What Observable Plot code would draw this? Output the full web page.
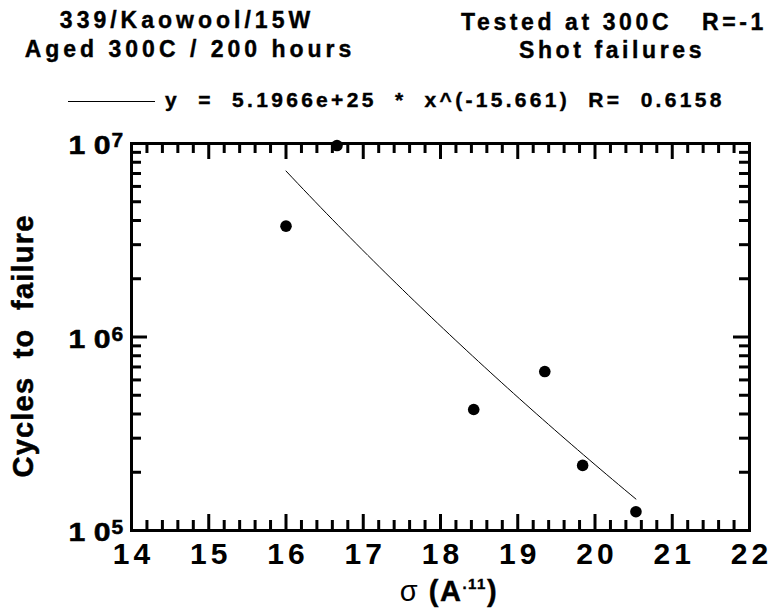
<!DOCTYPE html>
<html>
<head>
<meta charset="utf-8">
<script src="https://cdn.jsdelivr.net/npm/d3@7"></script>
<script src="https://cdn.jsdelivr.net/npm/@observablehq/plot@0.6"></script>
<style>
  body { margin: 0; background: #fff; }
  #chart { position: relative; width: 772px; height: 612px; font-family: "Liberation Sans", Arial, sans-serif; font-weight: bold; color: #000; }
  #chart svg { position: absolute; left: 0; top: 0; }
  #chart svg text { font-weight: bold; font-family: "Liberation Sans", Arial, sans-serif; }
  .t { position: absolute; white-space: pre; line-height: 1; transform: translateX(-50%); -webkit-text-stroke: 0.4px #000; }
  .x-tick text { letter-spacing: 4px; }
  .y-title text { letter-spacing: 1.2px; white-space: pre; }
  .y-base text { white-space: pre; }
</style>
</head>
<body>
<div id="chart"></div>
<script>
// Fatigue test results: stress parameter vs cycles to failure
const sigma = [16.0, 16.66, 18.43, 19.35, 19.84, 20.53];
const cycles = [3.74e6, 9.76e6, 4.22e5, 6.63e5, 2.17e5, 1.25e5];

// Power-law fit reported with the data
const fitA = 5.1966e25;
const fitB = -15.661;
const fitR = 0.6158;

const xTickValues = [14, 15, 16, 17, 18, 19, 20, 21, 22];
const yTickValues = [1e5, 1e6, 1e7];
const yTickExponents = ["5", "6", "7"];

const titleLeft = ["339/Kaowool/15W", "Aged 300C / 200 hours"];
const titleRight = ["Tested at 300C   R=-1", "Shot failures"];
const yLabel = "Cycles  to  failure";

// Minor tick positions: fifths on x, 2..9 per decade on y
const xMinor = [];
for (let i = 14; i < 22; i++) for (let k = 1; k <= 4; k++) xMinor.push(+(i + k * 0.2).toFixed(1));
const yMinor = [];
for (const dec of [1e5, 1e6]) for (let m = 2; m <= 9; m++) yMinor.push(m * dec);

// Fitted curve sampled over the tested stress range
const xFitMin = d3.min(sigma), xFitMax = d3.max(sigma);
const fit = d3.range(0, 61).map(i => {
  const x = xFitMin + (xFitMax - xFitMin) * i / 60;
  return {x, y: fitA * Math.pow(x, fitB)};
});

const points = sigma.map((s, i) => ({x: s, y: cycles[i]}));

const W = 772, H = 612;
const mT = 143, mB = 82, mL = 131, mR = 23;
const frameW = W - mL - mR, frameH = H - mT - mB;
const majorLen = 16, minorLen = 10;
const font = "Liberation Sans, Arial, sans-serif";
const heavy = {fill: "black", stroke: "black", strokeWidth: 0.5, fontWeight: "bold"};

const plot = Plot.plot({
  width: W, height: H,
  marginTop: mT, marginBottom: mB, marginLeft: mL, marginRight: mR,
  style: {fontFamily: font, fontWeight: "bold", background: "white", color: "black", overflow: "visible"},
  x: {domain: [14, 22], axis: null},
  y: {type: "log", domain: [1e5, 1e7], axis: null},
  marks: [
    // inward ticks on all four sides
    Plot.tickX(xTickValues, {x: d => d, insetTop: frameH - majorLen, stroke: "black", strokeWidth: 3}),
    Plot.tickX(xMinor, {x: d => d, insetTop: frameH - minorLen, stroke: "black", strokeWidth: 3}),
    Plot.tickX(xTickValues, {x: d => d, insetBottom: frameH - majorLen, stroke: "black", strokeWidth: 3}),
    Plot.tickX(xMinor, {x: d => d, insetBottom: frameH - minorLen, stroke: "black", strokeWidth: 3}),
    Plot.tickY(yTickValues, {y: d => d, insetRight: frameW - majorLen, stroke: "black", strokeWidth: 3}),
    Plot.tickY(yMinor, {y: d => d, insetRight: frameW - minorLen, stroke: "black", strokeWidth: 3}),
    Plot.tickY(yTickValues, {y: d => d, insetLeft: frameW - majorLen, stroke: "black", strokeWidth: 3}),
    Plot.tickY(yMinor, {y: d => d, insetLeft: frameW - minorLen, stroke: "black", strokeWidth: 3}),
    Plot.frame({stroke: "black", strokeWidth: 3}),
    // x tick labels
    Plot.axisX(xTickValues, {anchor: "bottom", tickSize: 0, tickPadding: 12, fontSize: 30, ...heavy, className: "x-tick", label: null, tickFormat: d => String(d), dx: 2}),
    // y tick labels as 10 with a raised exponent
    Plot.text(yTickValues, {y: d => d, frameAnchor: "left", text: () => "1 0", textAnchor: "end", dx: -21, dy: 2.5, fontSize: 25, ...heavy, className: "y-base"}),
    Plot.text(yTickValues, {y: d => d, frameAnchor: "left", text: (d, i) => yTickExponents[i], textAnchor: "start", dx: -20, dy: -3, fontSize: 21, ...heavy, className: "y-exp"}),
    // y axis title
    Plot.text([yLabel], {frameAnchor: "left", text: d => d, rotate: -90, textAnchor: "middle", dx: -108, dy: 9, fontSize: 29, ...heavy, className: "y-title"}),
    // fitted power law and observations
    Plot.line(fit, {x: "x", y: "y", stroke: "black", strokeWidth: 1}),
    Plot.dot(points, {x: "x", y: "y", r: 5.8, fill: "black", stroke: "none"})
  ]
});

// the decade labels are set in a broad face: widen them to a fixed run
plot.querySelectorAll(".y-base text").forEach(t => {
  t.setAttribute("textLength", 42);
  t.setAttribute("lengthAdjust", "spacingAndGlyphs");
});

const chart = document.getElementById("chart");
chart.appendChild(plot);

function addText(html, cx, baseline, size, spacing, extra) {
  const d = document.createElement("div");
  d.className = "t";
  d.innerHTML = html;
  d.style.left = cx + "px";
  d.style.top = (baseline - 0.846 * size) + "px";
  d.style.fontSize = size + "px";
  d.style.letterSpacing = spacing + "px";
  if (extra) Object.assign(d.style, extra);
  chart.appendChild(d);
  return d;
}

addText(titleLeft[0], 187, 28, 23, 4);
addText(titleLeft[1], 190, 57, 23, 4);
addText(titleRight[0], 614, 30, 23, 3.6);
addText(titleRight[1], 612, 58, 23, 3.6);

// legend: line sample followed by the fit equation
const legendLine = document.createElement("div");
Object.assign(legendLine.style, {position: "absolute", left: "68px", top: "100.5px", width: "87px", height: "1px", background: "black"});
chart.appendChild(legendLine);
const eq = `y  =  ${fitA.toExponential(4)}  *  x^(${fitB})  R=  ${fitR}`;
addText(eq, 0, 107, 21, 3.3, {transform: "none", left: "165px"});

// x axis title with superscript
addText('<span style="font-weight:normal;-webkit-text-stroke:0">σ</span> (A<span style="font-size:15px;position:relative;top:-12px">.11</span>)', 449, 602, 29, 1.5);
</script>
</body>
</html>
